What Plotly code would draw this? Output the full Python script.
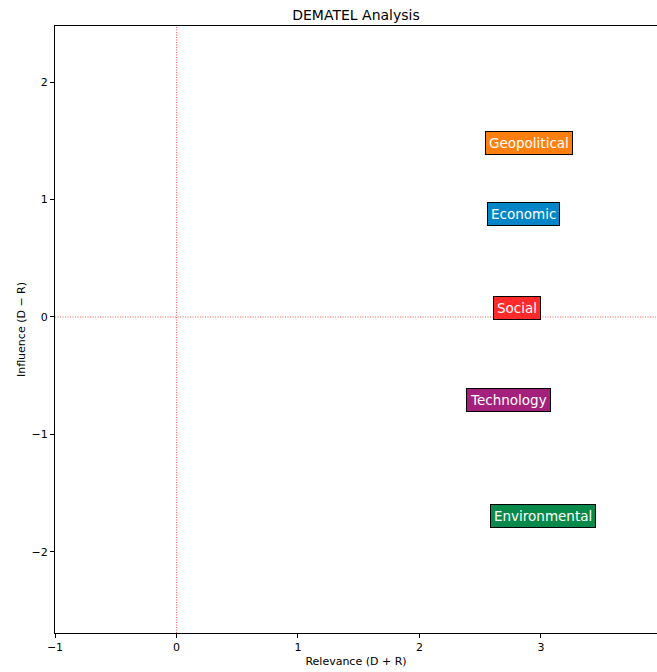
import plotly.graph_objects as go

factors = ["Geopolitical", "Economic", "Social", "Technology", "Environmental"]
relevance = [2.905, 2.86, 2.80, 2.73, 3.02]
influence = [1.48, 0.877, 0.077, -0.706, -1.69]
colors = ["#ff7f0e", "#0385c7", "#ff2a2a", "#a3207c", "#0a8a4a"]

fig = go.Figure()
fig.add_trace(go.Scatter(x=relevance, y=influence, mode="markers",
                         marker=dict(size=1, color="rgba(0,0,0,0)"),
                         hoverinfo="skip", showlegend=False))

for name, xv, yv, c in zip(factors, relevance, influence, colors):
    fig.add_annotation(x=xv, y=yv, text=name, showarrow=False,
                       font=dict(family="DejaVu Sans", size=13.5, color="white"),
                       bgcolor=c, bordercolor="black", borderwidth=1, borderpad=3,
                       xanchor="center", yanchor="middle")

fig.add_shape(type="line", xref="x", yref="paper", x0=0, x1=0, y0=0, y1=1,
              line=dict(color="rgba(255,0,0,0.8)", width=0.8, dash="1px,1.5px"), layer="below")
fig.add_shape(type="line", xref="paper", yref="y", x0=0, x1=1, y0=0, y1=0,
              line=dict(color="rgba(255,0,0,0.8)", width=0.8, dash="1px,1.5px"), layer="below")

axis_font = dict(family="DejaVu Sans", size=11, color="black")
fig.update_layout(
    width=657, height=672,
    margin=dict(l=55, r=0, t=26, b=39),
    plot_bgcolor="white", paper_bgcolor="white",
    title=dict(text="DEMATEL Analysis", x=0.5, xref="paper", y=1 - 15/672, yanchor="middle",
               font=dict(family="DejaVu Sans", size=14, color="black")),
    xaxis=dict(range=[-1, 3.955], tickvals=[-1, 0, 1, 2, 3], showgrid=False, zeroline=False,
               showline=True, linecolor="black", linewidth=1, mirror=True,
               ticks="outside", ticklen=4, tickcolor="black", tickfont=axis_font,
               title=dict(text="Relevance (D + R)", font=axis_font, standoff=4)),
    yaxis=dict(range=[-2.69, 2.477], tickvals=[-2, -1, 0, 1, 2], showgrid=False, zeroline=False,
               showline=True, linecolor="black", linewidth=1,
               ticks="outside", ticklen=4, tickcolor="black", tickfont=axis_font,
               title=dict(text="Influence (D − R)", font=axis_font, standoff=3)),
)

fig.write_html("out.html", config={"displayModeBar": False},
               post_script="document.body.style.margin='0';document.body.style.overflow='hidden';")
